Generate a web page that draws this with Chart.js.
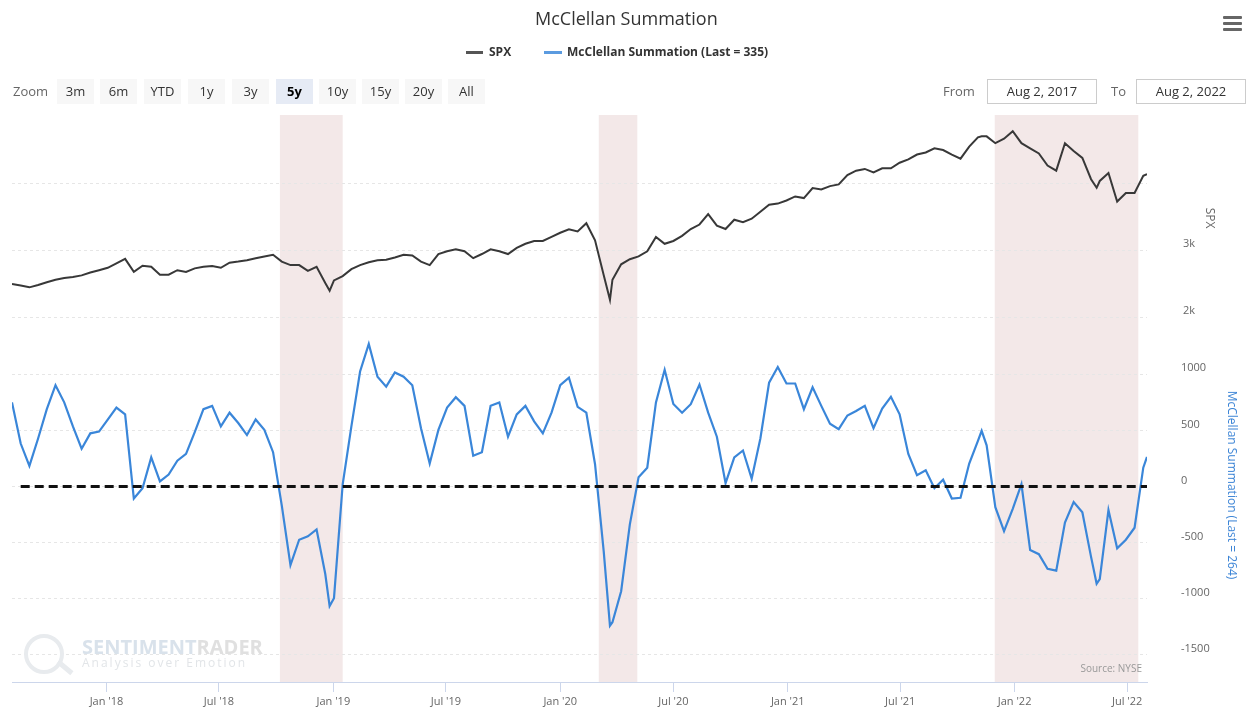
<!DOCTYPE html>
<html>
<head>
<meta charset="utf-8">
<title>McClellan Summation</title>
<script src="https://cdn.jsdelivr.net/npm/chart.js@4.4.0/dist/chart.umd.min.js"></script>
<style>
  html, body { margin: 0; padding: 0; background: #fff; }
  body { font-family: 'Open Sans', sans-serif; }
  #wrap { position: relative; width: 1250px; height: 709px; overflow: hidden; }
  #chart { position: absolute; left: 0; top: 0; }
  .abs { position: absolute; white-space: nowrap; }
  .btn { position: absolute; top: 79px; width: 37px; height: 25px; line-height: 25px;
         text-align: center; font-size: 13px; color: #333; background: #f7f7f7; }
  .btn.on { background: #e6ebf5; color: #000; font-weight: bold; }
  .box { position: absolute; top: 79px; width: 110px; height: 25px; line-height: 23px;
         box-sizing: border-box; border: 1px solid #ccc; text-align: center;
         font-size: 13px; color: #333; }
  .bar { position: absolute; left: 1223px; width: 19px; height: 3px; background: #666; border-radius: 1px; }
</style>
</head>
<body>
<div id="wrap">
  <canvas id="chart" width="1250" height="709"></canvas>

  <div class="abs" style="left:535px;top:6px;font-size:18px;line-height:24px;color:#333;">McClellan Summation</div>

  <div class="abs" style="left:466px;top:51px;width:17px;height:3px;background:#555;"></div>
  <div class="abs" style="left:489px;top:43px;font-size:12px;line-height:18px;font-weight:bold;color:#333;">SPX</div>
  <div class="abs" style="left:544px;top:51px;width:18px;height:3px;background:#5b9be0;"></div>
  <div class="abs" style="left:567px;top:43px;font-size:12px;line-height:18px;font-weight:bold;color:#333;">McClellan Summation (Last = 335)</div>

  <div class="bar" style="top:16px;"></div>
  <div class="bar" style="top:22px;"></div>
  <div class="bar" style="top:28px;"></div>

  <div class="abs" style="left:13px;top:82px;font-size:13px;line-height:18px;color:#666;">Zoom</div>
  <div class="btn" style="left:57px;">3m</div>
  <div class="btn" style="left:100px;">6m</div>
  <div class="btn" style="left:144px;">YTD</div>
  <div class="btn" style="left:188px;">1y</div>
  <div class="btn" style="left:232px;">3y</div>
  <div class="btn on" style="left:276px;">5y</div>
  <div class="btn" style="left:319px;">10y</div>
  <div class="btn" style="left:362px;">15y</div>
  <div class="btn" style="left:405px;">20y</div>
  <div class="btn" style="left:448px;">All</div>

  <div class="abs" style="left:943px;top:82px;font-size:13px;line-height:18px;color:#666;">From</div>
  <div class="box" style="left:987px;">Aug 2, 2017</div>
  <div class="abs" style="left:1111px;top:82px;font-size:13px;line-height:18px;color:#666;">To</div>
  <div class="box" style="left:1136px;">Aug 2, 2022</div>

  <div class="abs" style="left:1195px;top:211px;width:30px;height:14px;line-height:14px;text-align:center;font-size:12px;color:#666;transform:rotate(90deg);">SPX</div>
  <div class="abs" style="left:1112px;top:477px;width:240px;height:16px;line-height:16px;text-align:center;font-size:12px;color:#3d85d6;transform:rotate(90deg);">McClellan Summation (Last = 264)</div>

  <div class="abs" style="left:24px;top:634px;width:32px;height:32px;border:4px solid #e8ebee;border-radius:50%;"></div>
  <div class="abs" style="left:56px;top:665px;width:18px;height:5px;background:#e8ebee;transform:rotate(40deg);"></div>
  <div class="abs" style="left:82px;top:635px;font-size:20px;line-height:24px;font-weight:bold;color:#d9e2eb;">SENTIMENT<span style="color:#e0e0e0;">RADER</span></div>
  <div class="abs" style="left:82px;top:655px;font-size:12px;line-height:16px;letter-spacing:2px;color:#e2e5e8;">Analysis over Emotion</div>

  <div class="abs" style="right:108px;top:661px;font-size:10px;line-height:14px;color:#999;">Source: NYSE</div>
</div>

<script>
// x values: days after Aug 2, 2017
const dayOffsets = [
  0, 14, 28, 42, 56, 70, 84, 98, 112, 126,
  140, 154, 168, 182, 196, 210, 224, 238, 252, 266,
  280, 294, 308, 322, 336, 350, 364, 378, 392, 406,
  420, 434, 448, 462, 476, 490, 504, 511, 518, 532,
  546, 560, 574, 588, 602, 616, 630, 644, 658, 672,
  686, 700, 714, 728, 742, 756, 770, 784, 798, 812,
  826, 840, 854, 868, 882, 896, 910, 924, 938, 952,
  962, 966, 980, 994, 1008, 1022, 1036, 1050, 1064, 1078,
  1092, 1106, 1120, 1134, 1148, 1162, 1176, 1190, 1204, 1218,
  1232, 1246, 1260, 1274, 1288, 1302, 1316, 1330, 1344, 1358,
  1372, 1386, 1400, 1414, 1428, 1442, 1456, 1470, 1484, 1498,
  1512, 1526, 1540, 1554, 1560, 1568, 1582, 1596, 1610, 1624,
  1638, 1652, 1666, 1680, 1694, 1708, 1722, 1736, 1745, 1750,
  1764, 1778, 1792, 1806, 1820, 1826
];

const spxValues = [
  2497, 2472, 2446, 2482, 2523, 2559, 2584, 2600, 2625, 2667,
  2702, 2738, 2805, 2872, 2677, 2769, 2754, 2636, 2636, 2702,
  2677, 2730, 2754, 2764, 2738, 2815, 2831, 2851, 2882, 2908,
  2933, 2831, 2779, 2779, 2692, 2754, 2510, 2395, 2549, 2615,
  2718, 2779, 2820, 2851, 2860, 2892, 2933, 2923, 2831, 2779,
  2944, 2985, 3015, 2985, 2882, 2944, 3015, 2985, 2944, 3036,
  3097, 3139, 3139, 3200, 3262, 3315, 3282, 3405, 3149, 2626,
  2260, 2560, 2790, 2867, 2908, 2985, 3200, 3097, 3139, 3215,
  3318, 3385, 3539, 3369, 3318, 3457, 3421, 3472, 3575, 3680,
  3698, 3744, 3805, 3780, 3929, 3908, 3959, 3985, 4123, 4190,
  4216, 4164, 4226, 4226, 4308, 4359, 4431, 4462, 4524, 4498,
  4431, 4370, 4549, 4688, 4703, 4703, 4601, 4667, 4780, 4601,
  4524, 4447, 4267, 4190, 4601, 4483, 4380, 4062, 3934, 4036,
  4154, 3728, 3857, 3857, 4113, 4139
];

const mcclellanValues = [
  750, 383, 184, 428, 689, 903, 750, 536, 337, 474,
  490, 597, 704, 643, -107, -15, 260, 46, 107, 230,
  291, 485, 689, 719, 536, 658, 566, 459, 597, 505,
  306, -168, -700, -474, -444, -383, -780, -1065, -995, 20,
  536, 1025, 1270, 979, 890, 1016, 979, 903, 520, 205,
  505, 704, 796, 719, 275, 306, 719, 750, 444, 643,
  719, 581, 474, 658, 903, 970, 710, 658, 199, -581,
  -1240, -1209, -933, -337, 83, 168, 750, 1040, 735, 658,
  734, 909, 658, 444, 30, 260, 321, 70, 428, 925,
  1065, 918, 918, 689, 884, 719, 560, 511, 633, 673,
  719, 520, 695, 800, 643, 291, 101, 144, -15, 61,
  -107, -100, 205, 407, 496, 367, -184, -398, -199, 21,
  -566, -603, -734, -750, -321, -138, -230, -627, -866, -826,
  -210, -551, -474, -367, 168, 264
];

const tickDates = ['2018-01-01', '2018-07-01', '2019-01-01', '2019-07-01', '2020-01-01',
                   '2020-07-01', '2021-01-01', '2021-07-01', '2022-01-01', '2022-07-01'];
const tickLabels = ["Jan '18", "Jul '18", "Jan '19", "Jul '19", "Jan '20",
                    "Jul '20", "Jan '21", "Jul '21", "Jan '22", "Jul '22"];

const spxTicks = [2000, 3000, 4000];
const spxTickLabels = ['2k', '3k', ''];
const mcclellanTicks = [-1500, -1000, -500, 0, 500, 1000];

// shaded periods
const bandStarts = ['2018-10-07', '2020-03-03', '2021-11-30'];
const bandEnds = ['2019-01-16', '2020-05-04', '2022-07-19'];

const zeroLineDays = [14, 1826];
const zeroLineValues = [0, 0];

const startMs = Date.parse('2017-08-02');
function dayOf(d) {
    return (Date.parse(d) - startMs) / 86400000;
}

const shadeBands = {
    id: 'shadeBands',
    beforeDraw(chart) {
        const { ctx, chartArea, scales } = chart;
        ctx.save();
        ctx.fillStyle = '#f3e8e8';
        bandStarts.forEach((s, i) => {
            const x0 = scales.x.getPixelForValue(dayOf(s));
            const x1 = scales.x.getPixelForValue(dayOf(bandEnds[i]));
            ctx.fillRect(x0, chartArea.top, x1 - x0, chartArea.bottom - chartArea.top);
        });
        ctx.restore();
    }
};

Chart.defaults.font.family = "'Open Sans', sans-serif";

new Chart(document.getElementById('chart'), {
    type: 'line',
    data: {
        datasets: [{
            label: 'Zero',
            data: zeroLineDays.map((d, i) => ({ x: d, y: zeroLineValues[i] })),
            yAxisID: 'yMc',
            borderColor: '#111',
            borderWidth: 3,
            borderDash: [9, 5],
            pointRadius: 0,
            order: 0
        }, {
            label: 'SPX',
            data: dayOffsets.map((d, i) => ({ x: d, y: spxValues[i] })),
            yAxisID: 'ySpx',
            borderColor: '#383838',
            borderWidth: 2,
            pointRadius: 0,
            tension: 0,
            order: 1
        }, {
            label: 'McClellan Summation (Last = 335)',
            data: dayOffsets.map((d, i) => ({ x: d, y: mcclellanValues[i] })),
            yAxisID: 'yMc',
            borderColor: '#3a86d9',
            borderWidth: 2.2,
            pointRadius: 0,
            tension: 0,
            order: 1
        }]
    },
    options: {
        responsive: false,
        animation: false,
        layout: { padding: { top: 115, left: 12, right: 0, bottom: 0 } },
        plugins: {
            legend: { display: false },
            tooltip: { enabled: false }
        },
        scales: {
            x: {
                type: 'linear',
                min: 0,
                max: 1826,
                afterBuildTicks: (scale) => {
                    scale.ticks = tickDates.map(d => ({ value: dayOf(d) }));
                },
                afterFit: (scale) => { scale.height = 27; },
                ticks: {
                    autoSkip: false,
                    maxRotation: 0,
                    padding: 3,
                    color: '#666',
                    font: { size: 11 },
                    callback: (v, i) => tickLabels[i]
                },
                grid: { drawOnChartArea: false, drawTicks: true, tickLength: 10, color: '#ccd6eb' },
                border: { display: true, color: '#ccd6eb', width: 1 }
            },
            ySpx: {
                type: 'linear',
                position: 'right',
                weight: 0,
                min: -3453,
                max: 5022,
                afterBuildTicks: (scale) => {
                    scale.ticks = spxTicks.map(v => ({ value: v }));
                },
                afterFit: (scale) => {
                    scale.width = 0;
                    scale.paddingTop = 0;
                    scale.paddingBottom = 0;
                },
                ticks: {
                    mirror: true,
                    padding: 48,
                    labelOffset: -6,
                    color: '#666',
                    font: { size: 11 },
                    callback: (v, i) => spxTickLabels[i]
                },
                grid: { drawTicks: false, color: '#e6e6e6' },
                border: { display: false, dash: [3, 3] }
            },
            yMc: {
                type: 'linear',
                position: 'right',
                weight: 1,
                min: -1742,
                max: 3311,
                afterBuildTicks: (scale) => {
                    scale.ticks = mcclellanTicks.map(v => ({ value: v }));
                },
                afterFit: (scale) => {
                    scale.width = 103;
                    scale.paddingTop = 0;
                    scale.paddingBottom = 0;
                },
                ticks: {
                    padding: 34,
                    labelOffset: -6,
                    color: '#666',
                    font: { size: 11 },
                    callback: (v) => String(v)
                },
                grid: { drawTicks: false, color: '#e6e6e6' },
                border: { display: false, dash: [3, 3] }
            }
        }
    },
    plugins: [shadeBands]
});
</script>
</body>
</html>
